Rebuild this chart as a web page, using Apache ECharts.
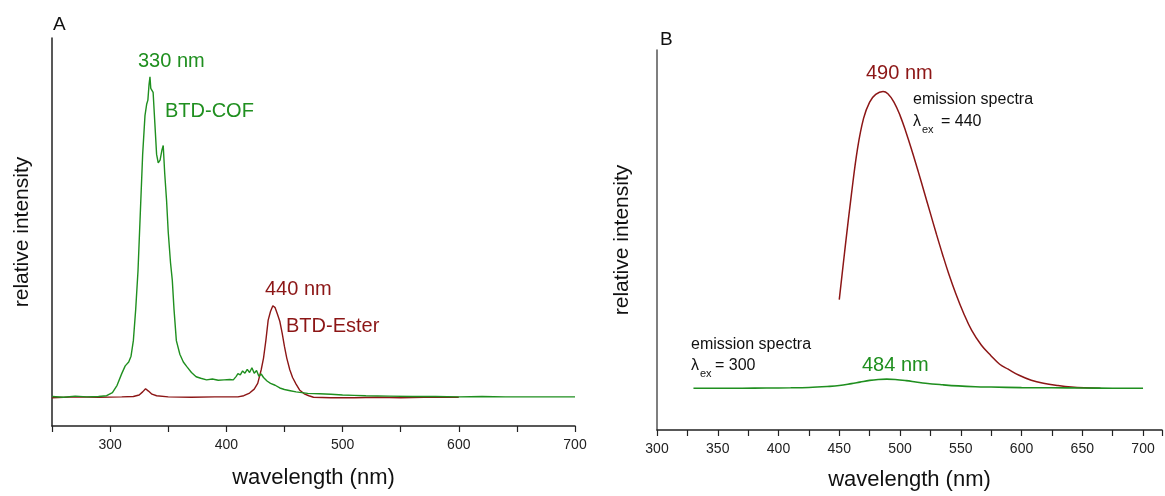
<!DOCTYPE html>
<html>
<head>
<meta charset="utf-8">
<script src="https://cdn.jsdelivr.net/npm/echarts@6/dist/echarts.min.js"></script>
<style>
html,body{margin:0;padding:0;background:#fff;}
#main{width:1165px;height:496px;}
</style>
</head>
<body>
<div id="main"></div>
<script>
// panel A - BTD-COF (green)
var cofWl=[250,260,270,280,290,297,302,306,310,313,316,318,320,322,324,326,328,330,331.5,332.5,333.5,334.3,335,336,337,338.5,340,341.4,343,344.5,345.7,347,348.6,350,352,353.5,355,357,360,363,366,370,374,378,383,388,393,398,403,406,408.5,410,412,414,416,418,420,422,424,426,428,430,432,435,438,442,446,450,455,460,465,470,480,490,500,510,520,540,560,580,600,620,640,660,680,700];
var cofInt=[7.6,7.4,7.7,7.5,7.6,7.8,8.6,10.5,13.5,15.5,16.5,18,22,30,40,55,70,80,83,84,88,90,87,86.5,86,78,70,67.8,68.5,71,72.3,65,58,50,42,37.6,30,22,18.5,16.5,15.3,13.8,12.7,12.3,11.9,12.1,11.8,11.9,12,11.9,12.8,13.5,13.2,14.2,13.6,14.6,13.8,15,13.6,14.3,12.8,13.4,12.5,11.6,11,10.5,9.8,9.4,9.1,8.8,8.6,8.4,8.3,8.2,8.0,7.9,7.8,7.7,7.6,7.6,7.5,7.6,7.5,7.5,7.5,7.5];
// panel A - BTD-Ester (dark red)
var esterWl=[250,270,290,310,320,325,328,330.5,333,336,340,350,370,390,410,415,420,424,427,430,432,434,436,438,440,441,442,444,446,448,450,452,454.6,457,460,463,467,471,475,490,510,530,550,570,600];
var esterInt=[7.3,7.5,7.4,7.5,7.6,8.0,8.8,9.6,9.0,8.2,7.8,7.5,7.4,7.5,7.5,7.8,8.5,9.5,11,14.5,17.5,22,27.3,29.5,31,31.3,30.5,28.8,27,24,20.5,17.5,14.5,12.5,10.8,9.3,8.3,7.8,7.4,7.3,7.3,7.4,7.3,7.4,7.4];
// panel B - emission, excitation 440 (dark red)
var em440Wl=[450,455,460,465,470,475,480,486,490,495,500,505,510,515,520,525,530,535,540,546,552,559,567,575,582,589,598,608,618,630,641,652,665];
var em440Int=[34.3,48.5,62,74,82,86.3,88.3,89.1,88.5,86.3,82.8,78.3,73.3,68,62.5,57,51.5,46.2,41.2,35.8,31,26.2,22.3,19.5,17.3,16,14.4,13.1,12.3,11.7,11.3,11.1,11.0];
// panel B - emission, excitation 300 (green)
var em300Wl=[330,350,370,390,410,425,440,450,460,467,475,482,489,496,505,513,521,535,548,562,575,600,625,650,675,700];
var em300Int=[11.0,11.0,11.0,11.05,11.1,11.2,11.45,11.7,12.2,12.6,13.05,13.3,13.4,13.3,13.0,12.65,12.3,11.9,11.6,11.4,11.3,11.15,11.1,11.05,11.0,11.0];

var GREEN='#1f8f1f';
var RED='#8c1616';
var FONT='"Liberation Sans", Arial, sans-serif';

function zip(a,b){
	var out=[];
	for(var i=0;i<a.length;i++){ out.push([a[i],b[i]]); }
	return out;
}
function xAxisBase(idx,min,max,step,every,gap,lineColor){
	return {
		type:'value', gridIndex:idx, min:min, max:max, interval:step,
		name:'wavelength (nm)', nameLocation:'middle', nameGap:gap,
		nameTextStyle:{fontFamily:FONT,fontSize:22,color:'#111'},
		axisLine:{show:true,onZero:false,lineStyle:{color:lineColor,width:1.5}},
		axisTick:{show:true,inside:false,length:6,lineStyle:{color:lineColor,width:1.2}},
		splitLine:{show:false},
		axisLabel:{margin:12,fontFamily:FONT,fontSize:14,color:'#222',
			formatter:function(v){ return (Math.abs(v%every)<1e-6)?String(v):''; }}
	};
}
function yAxisBase(idx,gap,lineColor){
	return {
		type:'value', gridIndex:idx, min:0, max:100,
		name:'relative intensity', nameLocation:'middle', nameRotate:90, nameGap:gap,
		nameTextStyle:{fontFamily:FONT,fontSize:21,color:'#111'},
		axisLine:{show:true,lineStyle:{color:lineColor,width:1.5}},
		axisTick:{show:false}, axisLabel:{show:false}, splitLine:{show:false}
	};
}
function txt(x,y,s,size,color){
	return {type:'text',x:x,y:y,style:{text:s,fontFamily:FONT,fontSize:size,fill:color,verticalAlign:'middle'}};
}

var chart=echarts.init(document.getElementById('main'));
var option={
	animation:false,
	backgroundColor:'#fff',
	grid:[
		{left:52,top:38,width:523,height:388,containLabel:false},
		{left:657,top:50,width:508,height:382,containLabel:false}
	],
	xAxis:[
		xAxisBase(0,250,700,50,100,41,'#222'),
		xAxisBase(1,300,715.6,25,50,39,'#222')
	],
	yAxis:[
		yAxisBase(0,19,'#222'),
		yAxisBase(1,24,'#555')
	],
	series:[
		{type:'line',xAxisIndex:0,yAxisIndex:0,data:zip(esterWl,esterInt),showSymbol:false,symbol:'none',
			lineStyle:{color:RED,width:1.4}},
		{type:'line',xAxisIndex:0,yAxisIndex:0,data:zip(cofWl,cofInt),showSymbol:false,symbol:'none',
			lineStyle:{color:GREEN,width:1.4}},
		{type:'line',xAxisIndex:1,yAxisIndex:1,data:zip(em440Wl,em440Int),showSymbol:false,symbol:'none',smooth:0.4,
			lineStyle:{color:RED,width:1.5}},
		{type:'line',xAxisIndex:1,yAxisIndex:1,data:zip(em300Wl,em300Int),showSymbol:false,symbol:'none',smooth:0.4,
			lineStyle:{color:GREEN,width:1.6}}
	],
	graphic:[
		txt(53,25,'A',19,'#111'),
		txt(660,40,'B',19,'#111'),
		txt(138,61,'330 nm',20,GREEN),
		txt(165,111,'BTD-COF',20,GREEN),
		txt(265,289,'440 nm',20,RED),
		txt(286,326,'BTD-Ester',20,RED),
		txt(866,73,'490 nm',20,RED),
		txt(913,100,'emission spectra',16,'#111'),
		txt(913,122,'λ',16,'#111'),
		txt(922,130,'ex',11,'#111'),
		txt(941,122,'= 440',16,'#111'),
		txt(691,345,'emission spectra',16,'#111'),
		txt(691,366,'λ',16,'#111'),
		txt(700,374,'ex',11,'#111'),
		txt(715,366,'= 300',16,'#111'),
		txt(862,365,'484 nm',20,GREEN)
	]
};
chart.setOption(option);
</script>
</body>
</html>
